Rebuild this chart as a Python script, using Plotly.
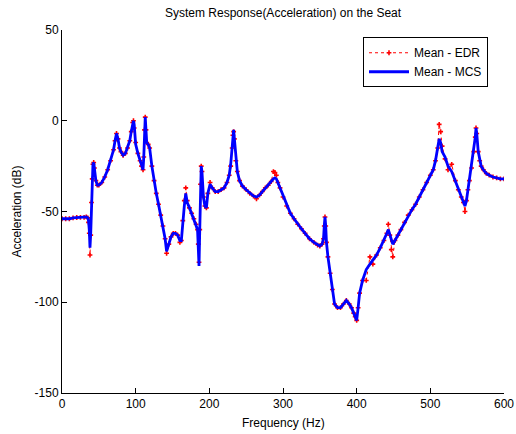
import plotly.graph_objects as go

freq = [0, 5, 10, 15, 20, 25, 30, 33, 35, 36, 37, 38, 39, 40, 41, 42, 43, 44, 46, 48,
        50, 54, 58, 62, 66, 70, 72, 74, 76, 78, 80, 83, 86, 89, 92, 94, 96, 97, 98, 100,
        103, 106, 108, 110, 111, 112, 113, 114, 115, 117, 119, 122, 125, 128, 131, 134, 137, 140, 142, 145,
        148, 151, 154, 157, 160, 162, 164, 166, 168, 170, 173, 176, 179, 182, 184, 185, 186, 187, 188, 189,
        190, 192, 194, 196, 198, 201, 204, 208, 212, 216, 220, 224, 227, 229, 231, 232, 233, 234, 236, 238,
        241, 245, 250, 255, 260, 264, 268, 272, 276, 280, 284, 287, 289, 291, 293, 296, 300, 305, 310, 315,
        320, 325, 330, 336, 342, 347, 350, 353, 355, 356, 357, 358, 359, 361, 364, 367, 370, 374, 378, 382,
        386, 390, 393, 396, 398, 400, 402, 404, 408, 413, 418, 422, 427, 432, 437, 441, 443, 445, 447, 449,
        452, 456, 460, 465, 470, 475, 480, 485, 490, 495, 500, 504, 507, 510, 512, 514, 516, 520, 524, 529,
        534, 538, 542, 545, 547, 549, 551, 553, 556, 559, 561, 562, 563, 565, 567, 569, 572, 576, 580, 585,
        590, 595, 600]

mcs = [-54, -54, -54, -53.5, -53.3, -53.2, -53.2, -53, -53.5, -55, -60, -70, -62, -45, -32, -24, -23, -26, -33, -35.5,
       -35.5, -34, -31, -27, -22, -16, -11, -7, -10, -15, -17, -19, -18, -15, -11, -6, -1, 0, -2, -13,
       -18, -22, -25, -27, -20, -5, 2, -5, -12, -13, -15, -25, -33, -40, -46, -52, -58, -65, -72, -68,
       -64, -62, -62, -63, -66, -66, -55, -47, -40, -45, -48, -51, -54, -57, -60, -70, -80, -60, -35, -25,
       -28, -42, -47, -48, -40, -35, -37, -39, -39, -38, -37, -34, -30, -24, -14, -7, -5, -10, -22, -28,
       -33, -36, -38, -40, -41.5, -42, -41, -39, -37, -35.5, -33.5, -32, -31.5, -32, -34, -37, -42, -47, -51, -54,
       -57, -59.5, -62, -65, -67, -68.5, -69, -68, -65, -58, -53, -58, -67, -75, -84, -93, -101, -103, -103, -101,
       -99, -101, -103, -106, -108, -110, -103, -95, -88, -82, -79, -77, -74, -70, -66, -62, -60, -63, -66, -68,
       -66, -63, -60, -56, -52, -49, -46, -42, -38, -34, -30, -27, -22, -15, -10, -12, -17, -20, -25, -28,
       -33, -38, -42, -45, -47, -44, -38, -33, -26, -17, -9, -4, -7, -17, -22, -25, -27, -29, -30, -31,
       -31.5, -32, -32]

edr = [-54, -54, -54, -53.5, -53.3, -53.2, -53.2, -53, -53.5, -56, -62, -74, -63, -45, -32, -24, -23, -26, -33, -35.5,
       -35.5, -34, -31, -27, -22, -16, -11, -7, -10, -15, -17, -19, -18, -15, -11, -6, -1, 0, -4, -12,
       -18, -22, -25, -27, -20, -5, 2, -5, -12, -13, -15, -25, -33, -40, -46, -52, -58, -65, -73, -68,
       -64, -62, -62, -63, -67, -66, -55, -44, -37, -44, -48, -51, -54, -57, -60, -68, -78, -60, -35, -25,
       -28, -42, -47, -48, -40, -34, -37, -39, -39, -38, -37, -34, -30, -25, -15, -8, -6, -10, -22, -28,
       -33, -36, -38, -40, -41.5, -43, -41, -39, -37, -35.5, -33.5, -28, -28.5, -30, -34, -37, -42, -47, -51, -54,
       -57, -59.5, -62, -65, -67, -68.5, -69, -68, -65, -58, -53, -58, -67, -75, -84, -93, -101, -103, -103, -101,
       -99, -101, -103, -106, -108, -110, -103, -95, -88, -88, -75, -79, -74, -70, -66, -62, -57, -63, -71, -75,
       -66, -63, -60, -56, -52, -49, -46, -42, -38, -34, -30, -27, -22, -15, -2, -6, -14, -21, -27, -24,
       -33, -38, -42, -45, -50, -44, -38, -33, -26, -17, -9, -4, -7, -17, -22, -25, -27, -29, -30, -31,
       -31.5, -32, -32]

x_ticks = [0, 100, 200, 300, 400, 500, 600]
x_labels = ["0", "100", "200", "300", "400", "500", "600"]
y_ticks = [-150, -100, -50, 0, 50]
y_labels = ["-150", "-100", "-50", "0", "50"]

fig = go.Figure()
fig.add_trace(go.Scatter(
    x=freq, y=edr, name="Mean - EDR", mode="lines+markers",
    line=dict(color="#ff0000", width=1, dash="dot"),
    marker=dict(symbol="cross", size=4, color="#ff0000"),
))
fig.add_trace(go.Scatter(
    x=freq, y=mcs, name="Mean - MCS", mode="lines",
    line=dict(color="#0000ff", width=2.8),
))

axis_common = dict(
    showline=True, linecolor="#000000", linewidth=1,
    ticks="inside", ticklen=5, tickcolor="#000000",
    showgrid=False, zeroline=False, mirror=False, automargin=False,
    tickfont=dict(size=12, color="#000000"),
)

fig.update_layout(
    width=516, height=434,
    margin=dict(l=62, r=12, t=30, b=41, autoexpand=False),
    paper_bgcolor="white", plot_bgcolor="white",
    font=dict(family="Liberation Sans, Arial, sans-serif", size=12, color="#000000"),
    xaxis=dict(range=[0, 600], tickvals=x_ticks, ticktext=x_labels, ticklabelstandoff=0, **axis_common),
    yaxis=dict(range=[-150, 50], tickvals=y_ticks, ticktext=y_labels, ticklabelstandoff=0, **axis_common),
    legend=dict(x=0.681, y=0.98, xanchor="left", yanchor="top",
                bgcolor="white", bordercolor="#000000", borderwidth=1,
                font=dict(size=12), tracegroupgap=0, itemwidth=40),
    showlegend=True,
    annotations=[
        dict(text="System Response(Acceleration) on the Seat", xref="paper", yref="paper",
             x=0.5, y=1, yshift=17, xanchor="center", yanchor="middle", showarrow=False,
             font=dict(size=12)),
        dict(text="Frequency (Hz)", xref="paper", yref="paper", x=0.5, y=0, yshift=-30,
             xanchor="center", yanchor="middle", showarrow=False, font=dict(size=12)),
        dict(text="Acceleration (dB)", xref="paper", yref="paper", x=0, xshift=-46, y=0.5,
             xanchor="center", yanchor="middle", textangle=-90, showarrow=False, font=dict(size=12)),
    ],
)

fig.write_html("out.html", config={"displayModeBar": False},
               post_script="document.body.style.margin='0';document.body.style.overflow='hidden';")
